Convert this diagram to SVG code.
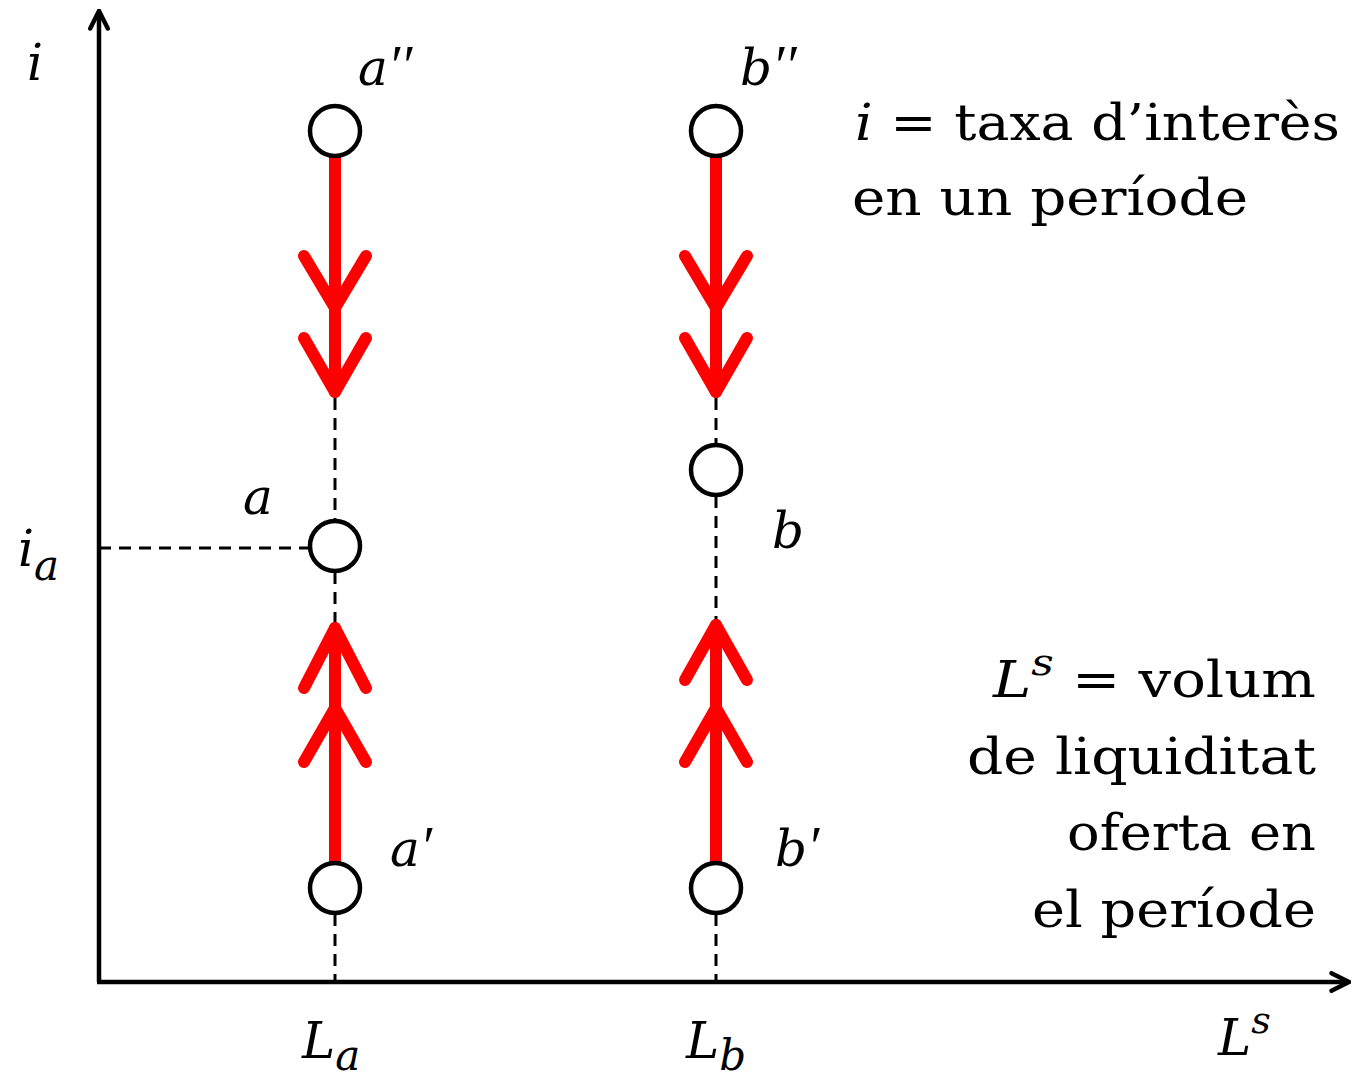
<svg xmlns="http://www.w3.org/2000/svg" width="1353" height="1079" viewBox="0 0 1353 1079">
<style>
.ax{stroke:#000;stroke-width:4.5;fill:none}
.dash{stroke:#000;stroke-width:3;stroke-dasharray:12,8;fill:none}
.red{stroke:#ff0000;stroke-width:12;fill:none;stroke-linecap:round;stroke-linejoin:round}
.node{fill:#fff;stroke:#000;stroke-width:4.5}
.t{font-family:"DejaVu Serif","Liberation Serif",serif;font-size:50px;fill:#000}
.it{font-style:italic}
.pr{font-family:"Liberation Serif","DejaVu Serif",serif;font-size:56px}
</style>
<defs>
<marker id="ah" viewBox="0 0 20 20" refX="17" refY="10" markerWidth="22" markerHeight="22" markerUnits="userSpaceOnUse" orient="auto">
<path d="M2,2 L18,10 L2,18" fill="none" stroke="#000" stroke-width="4" stroke-linecap="round"/>
</marker>
</defs>
<g id="connectors">
<line class="ax" x1="99" y1="982" x2="99" y2="12" marker-end="url(#ah)"/>
<line class="ax" x1="97" y1="982" x2="1348" y2="982" marker-end="url(#ah)"/>
<line class="dash" x1="99" y1="548" x2="310" y2="548"/>
<line class="dash" x1="335" y1="398" x2="335" y2="520"/>
<line class="dash" x1="335" y1="572" x2="335" y2="625"/>
<line class="dash" x1="335" y1="914" x2="335" y2="980"/>
<line class="dash" x1="716" y1="398" x2="716" y2="444"/>
<line class="dash" x1="716" y1="496" x2="716" y2="620"/>
<line class="dash" x1="716" y1="914" x2="716" y2="980"/>
<g id="arrow-a-down">
<line class="red" x1="335" y1="157" x2="335" y2="392"/>
<polyline class="red" points="304,256 335,308 366,256"/>
<polyline class="red" points="304,338 335,392 366,338"/>
</g>
<g id="arrow-b-down">
<line class="red" x1="716" y1="157" x2="716" y2="392"/>
<polyline class="red" points="685,256 716,308 747,256"/>
<polyline class="red" points="685,338 716,392 747,338"/>
</g>
<g id="arrow-a-up">
<line class="red" x1="335" y1="862" x2="335" y2="628"/>
<polyline class="red" points="304,688 335,628 366,688"/>
<polyline class="red" points="304,762 335,708 366,762"/>
</g>
<g id="arrow-b-up">
<line class="red" x1="716" y1="862" x2="716" y2="625"/>
<polyline class="red" points="685,680 716,625 747,680"/>
<polyline class="red" points="685,762 716,708 747,762"/>
</g>
</g>
<g id="node-a2"><circle class="node" cx="335" cy="131" r="25"/><text class="t it" x="358" y="85">a<tspan class="pr">′′</tspan></text></g>
<g id="node-b2"><circle class="node" cx="716" cy="131" r="25"/><text class="t it" x="740" y="85">b<tspan class="pr">′′</tspan></text></g>
<g id="node-a"><circle class="node" cx="335" cy="546" r="25"/><text class="t it" x="243" y="514">a</text></g>
<g id="node-b"><circle class="node" cx="716" cy="470" r="25"/><text class="t it" x="772" y="548">b</text></g>
<g id="node-a1"><circle class="node" cx="335" cy="888" r="25"/><text class="t it" x="390" y="866">a<tspan class="pr">′</tspan></text></g>
<g id="node-b1"><circle class="node" cx="716" cy="888" r="25"/><text class="t it" x="775" y="866">b<tspan class="pr">′</tspan></text></g>
<g id="labels">
<text class="t it" x="27" y="80">i</text>
<text class="t it" x="18" y="566">i<tspan font-size="42" dy="14">a</tspan></text>
<text class="t it" x="302" y="1058">L<tspan font-size="42" dy="12">a</tspan></text>
<text class="t it" x="686" y="1058">L<tspan font-size="42" dy="12">b</tspan></text>
<text class="t it" x="1218" y="1055">L<tspan font-size="38" dy="-22">s</tspan></text>
<text class="t" x="855" y="140" textLength="485" lengthAdjust="spacingAndGlyphs"><tspan class="it">i</tspan> = taxa d’interès</text>
<text class="t" x="852" y="215" textLength="396" lengthAdjust="spacingAndGlyphs">en un període</text>
<text class="t" x="993" y="697" textLength="323" lengthAdjust="spacingAndGlyphs"><tspan class="it">L</tspan><tspan class="it" font-size="38" dy="-22">s</tspan><tspan dy="22"> = volum</tspan></text>
<text class="t" x="967" y="774" textLength="349" lengthAdjust="spacingAndGlyphs">de liquiditat</text>
<text class="t" x="1067" y="850" textLength="249" lengthAdjust="spacingAndGlyphs">oferta en</text>
<text class="t" x="1032" y="927" textLength="284" lengthAdjust="spacingAndGlyphs">el període</text>
</g>
</svg>
